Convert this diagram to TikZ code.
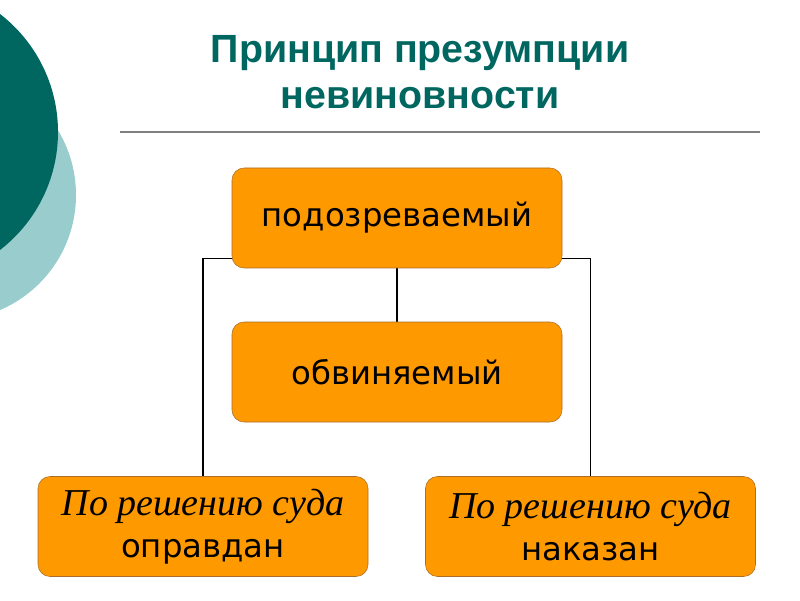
\documentclass[tikz,border=0pt]{standalone}
\usepackage{fontspec}
\setmainfont{DejaVu Sans}
\newfontfamily\titlefont{Liberation Sans}
\newfontfamily\notefont{Liberation Serif}
\usetikzlibrary{backgrounds}

\definecolor{darkteal}{RGB}{0,102,96}
\definecolor{lightteal}{RGB}{153,204,204}
\definecolor{boxorange}{RGB}{255,153,0}
\definecolor{boxedge}{RGB}{170,110,40}

\newcommand{\courtnote}{{\notefont\itshape\fontsize{27}{30}\selectfont По решению суда}}

\tikzset{
  stage/.style={draw=boxedge, fill=boxorange, rounded corners=0.3cm,
    minimum width=8.25cm, minimum height=2.5cm, align=center,
    font=\fontsize{23}{30}\selectfont},
  link/.style={draw=black, line width=0.8pt}
}

\begin{document}
\begin{tikzpicture}[scale=1]

    % Fix the frame of the slide
    \useasboundingbox (0,0) rectangle (20,15);

    % Decorative circles on the left edge
    \begin{scope}
        \clip (0,0) rectangle (20,15);
        \fill[lightteal] (-1.225,10.125) circle (3.125);
        \fill[darkteal] (-2.275,11.7) circle (3.725);
    \end{scope}

    % Title and rule below it
    \node[text=darkteal, align=center, font=\titlefont\bfseries\fontsize{28}{33}\selectfont] (title) at (10.5,13.2) {Принцип презумпции\\невиновности};
    \draw[gray, line width=1.4pt] (3,11.7) -- (19,11.7);

    % The boxes
    \node[stage] (suspect) at (9.925,9.55) {подозреваемый};
    \node[stage] (accused) at (9.925,5.7) {обвиняемый};
    \node[stage] (acquitted) at (5.075,1.8375) {\courtnote\\оправдан};
    \node[stage] (punished) at (14.7625,1.8375) {\courtnote\\наказан};

    % Connectors behind the boxes
    \begin{scope}[on background layer]
        \draw[link] (suspect.south) -- (accused.north);
        \draw[link] ([yshift=0.25cm]suspect.south) -| (acquitted.north);
        \draw[link] ([yshift=0.25cm]suspect.south) -| (punished.north);
    \end{scope}

\end{tikzpicture}
\end{document}
